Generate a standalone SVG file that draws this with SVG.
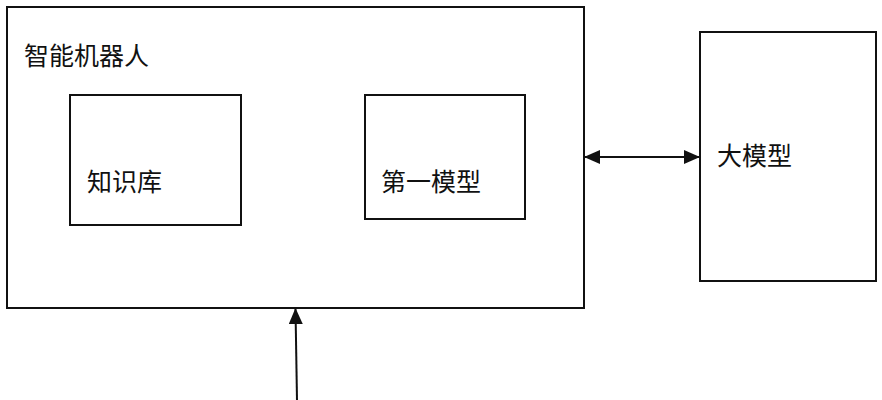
<svg xmlns="http://www.w3.org/2000/svg" width="882" height="400" viewBox="0 0 882 400">
<style>
.box{fill:#fff;stroke:#111;stroke-width:2}
.lbl{font-family:"Noto Sans CJK SC","Noto Sans",sans-serif;font-size:25px;fill:#111}
.line{stroke:#111;stroke-width:2;fill:none}
</style>
<defs>
<marker id="ah" viewBox="0 0 16 14" refX="15" refY="7" markerWidth="16" markerHeight="14" markerUnits="userSpaceOnUse" orient="auto-start-reverse">
<path d="M0,0 L16,7 L0,14 Z" fill="#111"/>
</marker>
</defs>
<rect width="882" height="400" fill="#fff"/>
<g id="robot">
<rect class="box" x="7" y="7" width="577" height="301"/>
<text class="lbl" x="24" y="65">智能机器人</text>
</g>
<g id="kb">
<rect class="box" x="70" y="95" width="171" height="130"/>
<text class="lbl" x="87" y="191">知识库</text>
</g>
<g id="model1">
<rect class="box" x="365" y="95" width="160" height="124"/>
<text class="lbl" x="381" y="191">第一模型</text>
</g>
<g id="llm">
<rect class="box" x="700" y="32" width="176" height="249"/>
<text class="lbl" x="717" y="165">大模型</text>
</g>
<g id="connectors">
<line class="line" x1="585" y1="157" x2="699" y2="157" marker-start="url(#ah)" marker-end="url(#ah)"/>
<line class="line" x1="297" y1="400" x2="295.5" y2="309" marker-end="url(#ah)"/>
</g>
</svg>
